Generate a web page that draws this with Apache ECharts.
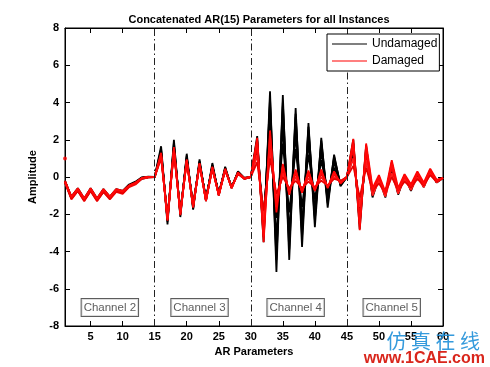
<!DOCTYPE html>
<html>
<head>
<meta charset="utf-8">
<script src="https://cdn.jsdelivr.net/npm/echarts@6/dist/echarts.min.js"></script>
<style>
html,body{margin:0;padding:0;background:#fff;}
#c{width:490px;height:367px;}
</style>
</head>
<body>
<div id="c"></div>
<script>
// AR parameter index 1..60 (4 channels x 15)
var params = [];
for (var i = 1; i <= 60; i++) params.push(i);

var xTicks = [5, 10, 15, 20, 25, 30, 35, 40, 45, 50, 55, 60];
var channelDividers = [15, 30, 45];
var channelNames = ['Channel 2', 'Channel 3', 'Channel 4', 'Channel 5'];
var channelLabelX = [8, 22, 37, 52];
var channelLabelY = -7;

// Undamaged instances (black)
var undamaged1 = [
 -0.2,-1.1,-0.65,-1.2,-0.65,-1.2,-0.7,-1.1,-0.7,-0.8,-0.45,-0.3,-0.05,0.0,0.0,
 1.65,-2.55,2.0,-2.15,1.25,-1.75,0.95,-1.3,0.75,-1.0,0.55,-0.6,0.3,-0.05,0.0,
 2.2,-3.5,4.6,-5.1,4.4,-4.45,3.7,-3.75,2.9,-2.7,2.1,-1.65,1.2,-0.5,0.0,
 2.0,-2.8,1.7,-1.1,0.0,-1.1,0.8,-0.95,0.1,-0.75,0.25,-0.55,0.4,-0.3,-0.05];
var undamaged2 = [
 -0.3,-1.15,-0.75,-1.25,-0.75,-1.25,-0.8,-1.15,-0.75,-0.85,-0.5,-0.35,-0.1,-0.02,0.0,
 1.4,-2.3,1.7,-1.95,1.05,-1.6,0.8,-1.2,0.6,-0.9,0.45,-0.55,0.25,-0.1,0.0,
 1.9,-3.0,3.9,-4.45,3.8,-3.9,3.2,-3.2,2.5,-2.3,1.8,-1.4,1.0,-0.45,0.0,
 1.6,-2.3,1.3,-0.9,-0.1,-0.95,0.6,-0.85,0.0,-0.65,0.15,-0.5,0.3,-0.25,-0.05];
var undamaged3 = [
 -0.25,-1.05,-0.6,-1.15,-0.6,-1.15,-0.65,-1.05,-0.65,-0.75,-0.4,-0.25,-0.02,0.02,0.0,
 1.2,-2.1,1.5,-1.8,0.95,-1.45,0.7,-1.1,0.5,-0.85,0.4,-0.5,0.2,-0.05,0.0,
 1.6,-2.5,3.0,-3.4,2.8,-3.0,2.4,-2.5,1.9,-1.8,1.4,-1.1,0.8,-0.35,0.0,
 1.3,-1.9,1.1,-0.8,-0.2,-0.85,0.5,-0.75,-0.05,-0.6,0.1,-0.45,0.25,-0.2,-0.05];
var undamaged4 = [
 -0.28,-1.1,-0.7,-1.2,-0.7,-1.2,-0.75,-1.1,-0.7,-0.8,-0.48,-0.32,-0.06,0.0,0.0,
 1.3,-2.2,1.6,-1.9,1.0,-1.5,0.75,-1.15,0.55,-0.9,0.4,-0.55,0.22,-0.08,0.0,
 1.3,-2.0,2.0,-2.2,1.8,-1.9,1.5,-1.6,1.2,-1.2,0.9,-0.8,0.5,-0.3,0.0,
 1.1,-1.6,0.9,-0.75,-0.25,-0.8,0.4,-0.7,-0.1,-0.55,0.05,-0.4,0.2,-0.2,-0.05];
var undamaged5 = [
 -0.22,-1.12,-0.68,-1.22,-0.68,-1.22,-0.72,-1.12,-0.72,-0.82,-0.46,-0.3,-0.04,0.01,0.0,
 1.5,-2.4,1.85,-2.05,1.15,-1.7,0.85,-1.25,0.65,-0.95,0.5,-0.58,0.28,-0.07,0.0,
 2.0,-3.2,4.2,-4.1,4.0,-3.5,3.4,-2.9,2.7,-2.1,1.95,-1.3,1.1,-0.4,0.0,
 1.8,-2.5,1.5,-1.0,-0.05,-1.0,0.7,-0.9,0.05,-0.7,0.2,-0.5,0.35,-0.28,-0.05];

// Damaged instances (red)
var damaged1 = [
 -0.2,-1.05,-0.6,-1.15,-0.6,-1.15,-0.65,-1.05,-0.65,-0.75,-0.45,-0.3,-0.05,0.0,0.0,
 1.3,-2.35,1.6,-2.05,0.95,-1.65,0.75,-1.3,0.55,-1.0,0.45,-0.6,0.25,-0.1,0.0,
 2.1,-3.5,2.5,-1.9,0.7,-0.95,0.4,-0.85,0.35,-0.75,0.4,-0.6,0.3,-0.35,0.0,
 2.05,-2.85,1.8,-0.6,0.1,-0.8,0.9,-0.6,0.15,-0.4,0.3,-0.3,0.45,-0.15,-0.05];
var damaged2 = [
 -0.3,-1.2,-0.75,-1.3,-0.75,-1.3,-0.8,-1.2,-0.8,-0.9,-0.55,-0.4,-0.1,-0.03,0.0,
 1.0,-2.1,1.3,-1.85,0.8,-1.5,0.6,-1.2,0.4,-0.9,0.35,-0.55,0.15,-0.1,0.0,
 1.6,-2.9,2.0,-1.5,0.4,-0.8,0.2,-0.75,0.15,-0.7,0.2,-0.55,0.15,-0.3,0.0,
 1.5,-2.2,1.3,-0.8,-0.1,-0.95,0.5,-0.75,0.0,-0.55,0.15,-0.45,0.3,-0.25,-0.05];
var damaged3 = [
 -0.25,-1.1,-0.7,-1.2,-0.7,-1.2,-0.7,-1.1,-0.7,-0.8,-0.5,-0.35,-0.07,0.0,0.0,
 1.15,-2.2,1.45,-1.95,0.9,-1.55,0.65,-1.25,0.5,-0.95,0.4,-0.6,0.2,-0.05,0.0,
 1.2,-2.3,1.5,-1.2,0.2,-0.7,0.0,-0.7,-0.05,-0.65,0.0,-0.5,0.0,-0.25,0.0,
 1.0,-1.6,0.9,-1.0,-0.2,-1.05,0.2,-0.9,-0.1,-0.7,0.0,-0.55,0.2,-0.3,-0.05];
var damaged4 = [
 -0.22,-1.15,-0.68,-1.25,-0.68,-1.25,-0.72,-1.15,-0.72,-0.85,-0.5,-0.33,-0.08,-0.01,0.0,
 1.1,-2.25,1.4,-1.9,0.85,-1.55,0.7,-1.25,0.45,-0.95,0.35,-0.55,0.2,-0.08,0.0,
 0.8,-1.8,1.0,-0.9,0.0,-0.6,-0.2,-0.6,-0.25,-0.55,-0.2,-0.45,-0.1,-0.2,0.0,
 0.6,-1.1,0.5,-0.7,-0.35,-0.85,0.0,-0.7,-0.25,-0.55,-0.1,-0.45,0.1,-0.25,-0.05];
var damaged5 = [
 -0.27,-1.08,-0.65,-1.18,-0.65,-1.18,-0.68,-1.08,-0.68,-0.78,-0.48,-0.32,-0.06,0.0,0.0,
 1.2,-2.3,1.5,-2.0,0.9,-1.6,0.7,-1.28,0.5,-0.98,0.4,-0.58,0.22,-0.08,0.0,
 1.9,-3.2,2.2,-1.6,0.55,-0.85,0.3,-0.8,0.25,-0.7,0.3,-0.55,0.2,-0.3,0.0,
 1.8,-2.5,1.6,-0.7,0.0,-0.9,0.7,-0.7,0.05,-0.5,0.2,-0.4,0.35,-0.2,-0.05];
var damagedOutlier = [[1, 1.0]];

function pairs(vals) { return vals.map(function (v, k) { return [params[k], v]; }); }

var chart = echarts.init(document.getElementById('c'), null, {renderer: 'canvas'});

var boldFont = 'Arial, "Liberation Sans", sans-serif';

function lineSeries(name, vals, color, extra) {
  var s = {
    name: name, type: 'line', data: pairs(vals), symbol: 'none', showSymbol: false,
    lineStyle: {color: color, width: 1.8}, itemStyle: {color: color},
    animation: false, z: name === 'Damaged' ? 4 : 3
  };
  if (extra) for (var k in extra) s[k] = extra[k];
  return s;
}

var series = [
  lineSeries('Undamaged', undamaged1, '#000000', {
    markLine: {
      silent: true, symbol: 'none', animation: false,
      label: {show: false},
      lineStyle: {color: '#222', width: 1, type: [7, 3, 1.5, 3]},
      data: channelDividers.map(function (d) { return {xAxis: d}; })
    }
  }),
  lineSeries('Undamaged', undamaged2, '#000000'),
  lineSeries('Undamaged', undamaged3, '#000000'),
  lineSeries('Undamaged', undamaged4, '#000000'),
  lineSeries('Undamaged', undamaged5, '#000000'),
  lineSeries('Damaged', damaged1, '#ff0000'),
  lineSeries('Damaged', damaged2, '#ee0000'),
  lineSeries('Damaged', damaged3, '#ff1a1a'),
  lineSeries('Damaged', damaged4, '#e60000'),
  lineSeries('Damaged', damaged5, '#ff0808'),
  {
    name: 'Damaged', type: 'scatter', data: damagedOutlier, symbolSize: 4,
    itemStyle: {color: '#ff0000'}, animation: false, z: 5
  },
  {
    name: 'channels', type: 'scatter', symbolSize: 0, animation: false, z: 6,
    data: channelNames.map(function (n, k) { return {name: n, value: [channelLabelX[k], channelLabelY]}; }),
    label: {
      show: true, position: 'inside', formatter: '{b}',
      fontFamily: 'Arial, "Liberation Sans", sans-serif', fontSize: 11.5, color: '#333',
      borderColor: '#333', borderWidth: 1, padding: [3, 2, 2, 2], backgroundColor: '#fff'
    }
  }
];

var option = {
  backgroundColor: '#fff',
  animation: false,
  title: {
    text: 'Concatenated AR(15) Parameters for all Instances',
    left: 254, textAlign: 'center', top: 9,
    textStyle: {fontFamily: boldFont, fontWeight: 'bold', fontSize: 11, color: '#000'}
  },
  legend: {
    data: [{name: 'Undamaged', icon: 'rect'}, {name: 'Damaged', icon: 'rect'}],
    orient: 'vertical', left: 327, top: 34,
    backgroundColor: '#fff', borderColor: '#000', borderWidth: 1,
    padding: [3, 2, 3, 5], itemGap: 3, itemWidth: 35, itemHeight: 1.2,
    textStyle: {fontFamily: 'Arial, "Liberation Sans", sans-serif', fontSize: 12, color: '#000', lineHeight: 14},
    z: 10
  },
  grid: {left: 65, right: 47, top: 28, bottom: 41, show: true, borderColor: '#000', borderWidth: 1, backgroundColor: 'transparent'},
  xAxis: [{
    type: 'value', min: 1, max: 60, position: 'bottom',
    name: 'AR Parameters', nameLocation: 'middle', nameGap: 19,
    nameTextStyle: {fontFamily: boldFont, fontWeight: 'bold', fontSize: 11, color: '#000'},
    axisLine: {show: true, onZero: false, lineStyle: {color: '#000', width: 1}},
    axisTick: {show: true, inside: true, length: 5, customValues: xTicks, lineStyle: {color: '#000'}},
    axisLabel: {customValues: xTicks, margin: 5, fontFamily: boldFont, fontWeight: 'bold', fontSize: 11, color: '#000'},
    splitLine: {show: false}
  }, {
    type: 'value', min: 1, max: 60, position: 'top',
    axisLine: {show: true, onZero: false, lineStyle: {color: '#000', width: 1}},
    axisTick: {show: true, inside: true, length: 5, customValues: xTicks, lineStyle: {color: '#000'}},
    axisLabel: {show: false}, splitLine: {show: false}
  }],
  yAxis: [{
    type: 'value', min: -8, max: 8, interval: 2, position: 'left',
    name: 'Amplitude', nameLocation: 'middle', nameGap: 22, nameRotate: 90,
    nameTextStyle: {fontFamily: boldFont, fontWeight: 'bold', fontSize: 11, color: '#000'},
    axisLine: {show: true, onZero: false, lineStyle: {color: '#000', width: 1}},
    axisTick: {show: true, inside: true, length: 5, lineStyle: {color: '#000'}},
    axisLabel: {margin: 6, fontFamily: boldFont, fontWeight: 'bold', fontSize: 11, color: '#000'},
    splitLine: {show: false}
  }, {
    type: 'value', min: -8, max: 8, interval: 2, position: 'right',
    axisLine: {show: true, onZero: false, lineStyle: {color: '#000', width: 1}},
    axisTick: {show: true, inside: true, length: 5, lineStyle: {color: '#000'}},
    axisLabel: {show: false}, splitLine: {show: false}
  }],
  graphic: [
    {type: 'text', right: 10, bottom: 16, z: 100,
     style: {text: '仿 真 在 线', fontFamily: '"Noto Sans CJK SC", sans-serif', fontSize: 20, fill: '#1e8fd8', opacity: 0.9}},
    {type: 'text', right: 5, bottom: 0, z: 100,
     style: {text: 'www.1CAE.com', fontFamily: 'Arial, "Liberation Sans", sans-serif', fontWeight: 'bold', fontSize: 16, fill: '#d9261c'}}
  ],
  series: series
};

chart.setOption(option);
</script>
</body>
</html>
